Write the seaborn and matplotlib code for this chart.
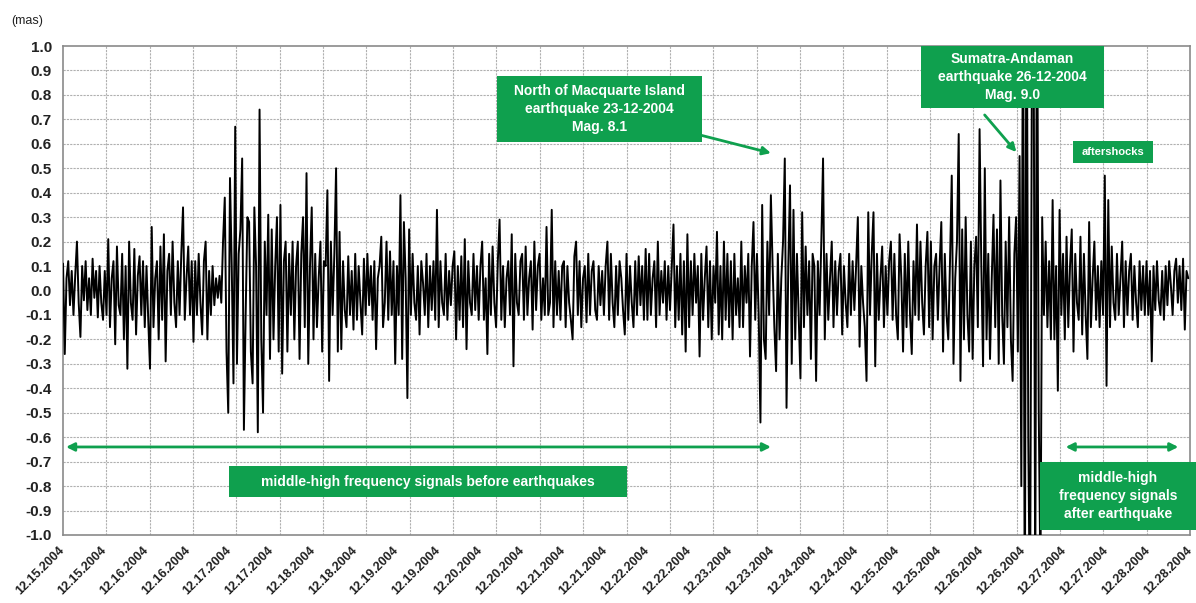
import numpy as np
import pandas as pd
import matplotlib
matplotlib.use("Agg")
import matplotlib.pyplot as plt
import seaborn as sns
from matplotlib.patches import Rectangle

# ---- data: polar-motion residual signal (mas), 24 samples per half day ----
seg00 = [0.11, -0.26, 0.05, 0.12, -0.06, 0.08, -0.1, 0.06, 0.2, -0.05, -0.19, 0.1, -0.04, 0.12, -0.08, 0.05, -0.1, 0.13, -0.03, 0.08, -0.11, 0.1, -0.05, -0.12]
seg01 = [0.08, -0.1, 0.21, -0.15, 0.05, 0.12, -0.22, 0.18, -0.06, -0.1, 0.15, -0.2, 0.1, -0.32, 0.2, -0.05, -0.12, 0.17, -0.18, 0.06, 0.14, -0.1, 0.12, -0.15]
seg02 = [0.1, -0.12, -0.32, 0.26, -0.15, 0.05, 0.12, -0.2, 0.18, -0.12, 0.23, -0.29, 0.08, 0.15, -0.1, 0.2, -0.05, -0.15, 0.12, -0.1, 0.15, 0.34, -0.12, 0.05]
seg03 = [0.18, -0.1, 0.12, -0.21, 0.12, -0.1, 0.15, -0.05, -0.18, 0.12, 0.2, -0.2, 0.08, -0.1, 0.1, -0.06, 0.05, -0.03, 0.06, -0.05, 0.2, 0.38, -0.25, -0.5]
seg04 = [0.46, 0.1, -0.38, 0.67, -0.3, 0.15, 0.25, 0.54, -0.57, -0.1, 0.3, 0.28, -0.25, -0.38, 0.34, 0.1, -0.58, 0.74, -0.2, -0.5, 0.2, -0.1, 0.31, -0.28]
seg05 = [0.25, -0.2, 0.1, 0.3, -0.25, 0.35, -0.34, 0.12, 0.2, -0.25, 0.15, -0.1, 0.2, -0.2, 0.1, 0.2, -0.28, 0.15, 0.3, -0.15, 0.48, -0.3, 0.1, 0.34]
seg06 = [-0.2, 0.15, -0.15, 0.05, 0.2, -0.25, 0.12, 0.1, 0.41, -0.37, 0.2, -0.1, 0.15, 0.5, -0.25, 0.24, -0.24, 0.12, -0.08, -0.15, 0.14, -0.1, 0.08, -0.16]
seg07 = [0.15, -0.12, 0.1, -0.05, -0.18, 0.13, -0.1, 0.15, -0.06, 0.1, -0.12, 0.12, -0.24, 0.05, 0.1, 0.22, -0.15, -0.05, 0.2, -0.12, 0.16, -0.1, 0.12, -0.3]
seg08 = [0.1, -0.1, 0.39, -0.28, 0.28, 0.05, -0.44, 0.25, -0.1, 0.15, -0.05, -0.12, 0.1, -0.18, 0.12, 0.03, -0.1, 0.15, -0.15, 0.1, -0.08, 0.12, -0.12, 0.33]
seg09 = [-0.15, 0.12, -0.05, -0.1, 0.15, -0.12, 0.08, -0.06, 0.1, 0.16, -0.2, 0.1, -0.12, 0.14, -0.15, 0.21, -0.24, 0.12, -0.05, -0.1, 0.15, -0.08, 0.1, -0.12]
seg10 = [0.1, 0.2, -0.12, 0.05, -0.26, 0.15, -0.1, 0.18, -0.05, -0.15, 0.12, 0.29, -0.12, 0.1, -0.15, 0.05, 0.12, -0.1, 0.23, -0.31, 0.15, -0.05, -0.1, 0.12]
seg11 = [0.15, -0.12, 0.18, -0.1, 0.05, 0.12, -0.16, 0.2, -0.08, 0.1, 0.15, -0.12, 0.05, -0.1, 0.26, -0.1, -0.05, 0.33, -0.15, 0.12, -0.1, 0.08, -0.12, 0.1]
seg12 = [0.12, -0.15, 0.1, -0.05, -0.12, -0.2, 0.14, 0.2, -0.1, 0.12, -0.15, 0.05, 0.1, -0.13, 0.15, -0.1, 0.08, 0.12, -0.08, -0.12, 0.1, -0.06, 0.08, -0.1]
seg13 = [0.1, 0.2, -0.12, 0.15, -0.05, -0.15, 0.1, -0.1, 0.12, 0.05, -0.08, -0.18, 0.15, -0.12, 0.1, -0.05, -0.15, 0.12, -0.1, 0.14, -0.06, 0.1, -0.12, 0.17]
seg14 = [-0.12, 0.15, -0.1, 0.05, 0.12, -0.15, 0.2, -0.1, 0.08, -0.05, 0.12, -0.12, 0.1, -0.08, 0.1, 0.27, -0.15, 0.1, -0.12, 0.15, -0.18, 0.12, -0.25, 0.23]
seg15 = [-0.15, 0.12, -0.1, 0.15, -0.05, 0.1, -0.27, 0.15, -0.12, 0.05, 0.18, -0.15, 0.12, -0.2, 0.1, -0.05, 0.24, -0.18, 0.1, -0.2, 0.2, -0.12, 0.15, -0.15]
seg16 = [0.12, -0.2, 0.15, -0.1, 0.05, -0.15, 0.2, -0.15, 0.1, -0.05, 0.15, -0.27, 0.1, 0.28, -0.12, 0.15, -0.1, -0.54, 0.35, -0.2, -0.28, 0.2, -0.1, 0.39]
seg17 = [0.1, -0.15, -0.33, 0.15, -0.2, 0.05, 0.2, 0.54, -0.48, 0.1, 0.43, -0.3, 0.33, -0.2, 0.15, -0.1, -0.36, 0.32, -0.15, 0.18, -0.1, 0.12, -0.28, 0.15]
seg18 = [0.1, -0.37, 0.12, -0.1, 0.2, 0.54, -0.2, 0.15, -0.12, 0.05, 0.2, -0.15, 0.12, -0.1, 0.08, 0.15, -0.18, 0.1, -0.05, -0.15, 0.15, -0.1, 0.12, -0.08]
seg19 = [0.1, 0.3, -0.23, 0.1, -0.05, -0.15, -0.37, 0.32, -0.1, 0.15, 0.32, -0.31, 0.15, -0.12, 0.05, 0.18, -0.15, 0.1, -0.1, 0.12, 0.2, -0.12, 0.15, -0.1]
seg20 = [-0.2, 0.23, 0.05, -0.25, 0.15, -0.15, 0.2, -0.1, -0.26, 0.12, -0.1, 0.27, -0.12, 0.2, -0.05, -0.18, 0.1, 0.24, -0.15, 0.2, -0.2, 0.1, 0.15, -0.12]
seg21 = [0.1, 0.28, -0.25, 0.15, -0.1, -0.2, 0.12, 0.47, -0.3, 0.05, 0.2, 0.64, -0.37, 0.25, -0.2, 0.3, -0.1, -0.25, 0.2, -0.28, 0.1, 0.22, -0.15, 0.66]
seg22 = [0.1, -0.31, 0.5, -0.2, 0.15, -0.28, 0.05, 0.31, -0.15, 0.25, -0.3, 0.45, -0.1, -0.3, 0.2, -0.15, 0.3, -0.2, -0.37, 0.15, 0.3, -0.25, 0.55, -0.8]
seg23 = [1.4, -1.5, 1.6, -0.6, -1.4, 0.75, 1.3, -1.3, 1.5, -0.48, -1.2, 0.3, -0.1, 0.2, -0.15, 0.12, -0.2, 0.37, -0.2, 0.1, -0.41, 0.33, -0.1, 0.15]
seg24 = [-0.2, 0.22, -0.15, 0.1, 0.25, -0.25, 0.15, -0.05, -0.12, 0.22, -0.18, 0.15, -0.1, -0.28, 0.28, -0.15, 0.05, 0.2, -0.12, 0.1, -0.15, 0.12, -0.1, 0.47]
seg25 = [-0.39, 0.37, -0.15, 0.18, -0.05, -0.12, 0.15, -0.1, 0.05, 0.2, -0.15, 0.12, -0.1, 0.08, 0.15, -0.12, 0.1, -0.05, -0.15, 0.12, -0.08, 0.1, -0.1, 0.12]
seg26 = [-0.1, 0.08, -0.29, 0.1, -0.08, 0.12, -0.04, -0.1, 0.08, -0.12, 0.1, -0.06, 0.12, 0.02, -0.1, 0.08, 0.13, -0.05, 0.1, -0.08, 0.13, -0.16, 0.08, 0.05]

segments = [seg00, seg01, seg02, seg03, seg04, seg05, seg06, seg07, seg08, seg09,
            seg10, seg11, seg12, seg13, seg14, seg15, seg16, seg17, seg18, seg19,
            seg20, seg21, seg22, seg23, seg24, seg25, seg26]

tick_labels = ["12.15.2004", "12.15.2004", "12.16.2004", "12.16.2004", "12.17.2004", "12.17.2004",
               "12.18.2004", "12.18.2004", "12.19.2004", "12.19.2004", "12.20.2004", "12.20.2004",
               "12.21.2004", "12.21.2004", "12.22.2004", "12.22.2004", "12.23.2004", "12.23.2004",
               "12.24.2004", "12.24.2004", "12.25.2004", "12.25.2004", "12.26.2004", "12.26.2004",
               "12.27.2004", "12.27.2004", "12.28.2004", "12.28.2004"]

y_ticks = [-1.0, -0.9, -0.8, -0.7, -0.6, -0.5, -0.4, -0.3, -0.2, -0.1, 0.0,
           0.1, 0.2, 0.3, 0.4, 0.5, 0.6, 0.7, 0.8, 0.9, 1.0]

# ---- build frame ----
signal = [v for seg in segments for v in seg]
step = 0.5 / len(seg00)
df = pd.DataFrame({"day": np.arange(len(signal)) * step, "mas": signal})

sns.set_style("white")
plt.rcParams["font.family"] = ["Liberation Sans", "DejaVu Sans"]

fig = plt.figure(figsize=(11.96, 6.03), dpi=100)
ax = fig.add_axes([0.0527, 0.1128, 0.9423, 0.8109])

GREEN = "#0fa04e"
GRID = "#b0b0b0"

sns.lineplot(data=df, x="day", y="mas", ax=ax, color="black", linewidth=1.4, zorder=3)

x_end = 13.5
ax.set_xlim(0, x_end)
ax.set_ylim(-1, 1)

# grid
label_pos = np.arange(len(tick_labels)) * 0.5
grid_pos = np.linspace(0, x_end, 27)
for g in grid_pos[1:-1]:
    ax.axvline(g, color=GRID, lw=0.8, ls=(0, (2, 1)), zorder=1)
for yv in y_ticks[1:-1]:
    ax.axhline(yv, color=GRID, lw=0.8, ls=(0, (2, 1)), zorder=1)

ax.set_xticks(label_pos)
ax.set_xticklabels(tick_labels, rotation=45, ha="right", va="center", rotation_mode="anchor",
                   fontsize=9, fontweight="bold", color="#222222")
ax.set_xticks(grid_pos, minor=True)
ax.tick_params(axis="x", which="major", length=0, pad=10)
ax.tick_params(axis="x", which="minor", length=5, color="#888888", width=1)
ax.set_yticks(y_ticks)
ax.set_yticklabels([f"{v:.1f}" for v in y_ticks], fontsize=11, fontweight="bold", color="#222222")
ax.tick_params(axis="y", length=4, color="#888888", width=1, pad=4)
ax.set_xlabel("")
ax.set_ylabel("")
for s in ax.spines.values():
    s.set_color("#8a8a8a")
    s.set_linewidth(1.2)

fig.text(0.009, 0.965, "(mas)", fontsize=9, color="#222222", ha="left", va="center")

# ---- annotations ----
def box(x0, x1, y0, y1, text, fs):
    ax.add_patch(Rectangle((x0, y0), x1 - x0, y1 - y0, facecolor=GREEN, edgecolor="none",
                           zorder=6, clip_on=False))
    ax.text((x0 + x1) / 2, (y0 + y1) / 2, text, ha="center", va="center", color="white",
            fontsize=fs, fontweight="bold", zorder=7, linespacing=1.35, clip_on=False)

box(5.20, 7.66, 0.607, 0.877, "North of Macquarte Island\nearthquake 23-12-2004\nMag. 8.1", 10)
box(10.28, 12.47, 0.746, 1.0, "Sumatra-Andaman\nearthquake 26-12-2004\nMag. 9.0", 10)
box(12.10, 13.06, 0.521, 0.611, "aftershocks", 8)
box(1.99, 6.76, -0.845, -0.718, "middle-high frequency signals before earthquakes", 10)
box(11.70, 13.57, -0.98, -0.701, "middle-high\nfrequency signals\nafter earthquake", 10)

arrow = dict(arrowstyle="-|>", color=GREEN, lw=2, mutation_scale=12, shrinkA=0, shrinkB=0)
ax.annotate("", xy=(8.48, 0.562), xytext=(7.63, 0.636), arrowprops=arrow, zorder=6)
ax.annotate("", xy=(11.42, 0.566), xytext=(11.04, 0.718), arrowprops=arrow, zorder=6)
darrow = dict(arrowstyle="<|-|>", color=GREEN, lw=2, mutation_scale=12, shrinkA=0, shrinkB=0)
ax.annotate("", xy=(8.48, -0.64), xytext=(0.036, -0.64), arrowprops=darrow, zorder=6)
ax.annotate("", xy=(13.36, -0.64), xytext=(12.01, -0.64), arrowprops=darrow, zorder=6)

fig.savefig("out.png", dpi=100)
